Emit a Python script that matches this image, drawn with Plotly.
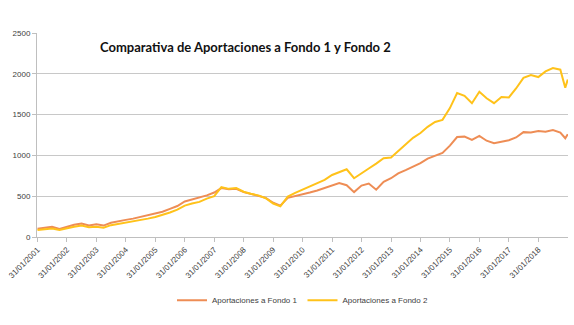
import plotly.graph_objects as go
import pandas as pd

# Quarterly readings (end of Jan/Apr/Jul/Oct) from 31/01/2001 to 31/10/2018, plus two final points
dates = list(pd.date_range("2001-01-31", periods=72, freq="3ME").strftime("%Y-%m-%d")) + ["2018-12-31", "2019-01-31"]

fondo1 = [100, 115, 125, 100, 130, 150, 165, 140, 155, 140, 175, 195,
          210, 225, 245, 265, 285, 310, 345, 380, 435, 460, 480, 510,
          545, 600, 585, 590, 550, 525, 505, 480, 420, 385, 480, 500,
          520, 545, 570, 600, 635, 660, 635, 550, 630, 655, 580, 675,
          720, 780, 820, 865, 905, 960, 995, 1030, 1120, 1225, 1230, 1190,
          1240, 1180, 1150, 1165, 1185, 1220, 1285, 1280, 1300, 1290, 1310, 1280,
          1210, 1260]

fondo2 = [85, 95, 105, 85, 110, 125, 140, 120, 125, 115, 145, 160,
          175, 190, 205, 225, 245, 270, 300, 335, 385, 410, 430, 470,
          500, 610, 590, 600, 555, 530, 510, 475, 410, 375, 495, 540,
          580, 620, 665, 700, 760, 790, 830, 720, 785, 840, 900, 965,
          975, 1050, 1130, 1215, 1275, 1350, 1410, 1435, 1580, 1765, 1730, 1640,
          1780, 1700, 1640, 1715, 1710, 1820, 1950, 1985, 1960, 2030, 2070, 2050,
          1830, 1930]

tick_vals = [f"{y}-01-31" for y in range(2001, 2019)]
tick_text = [f"31/01/{y}" for y in range(2001, 2019)]

fig = go.Figure()
fig.add_trace(go.Scatter(x=dates, y=fondo1, mode="lines", name="Aportaciones a Fondo 1",
                         line=dict(color="#EE8D55", width=2)))
fig.add_trace(go.Scatter(x=dates, y=fondo2, mode="lines", name="Aportaciones a Fondo 2",
                         line=dict(color="#FFC21A", width=2)))

fig.update_layout(
    width=574, height=325,
    margin=dict(l=37, r=6, t=33, b=88),
    paper_bgcolor="white", plot_bgcolor="white",
    font=dict(family="Liberation Sans", size=8, color="#404040"),
    showlegend=True,
    legend=dict(orientation="h", x=0.5, xanchor="center", y=-0.31, yanchor="middle",
                font=dict(size=8, color="#404040"), itemwidth=30, tracegroupgap=0),
    annotations=[dict(text="<b>Comparativa de Aportaciones a Fondo 1 y Fondo 2</b>",
                      xref="paper", yref="paper", x=(245 - 37) / 531, y=(237 - 47) / 204,
                      xanchor="center", yanchor="middle", showarrow=False,
                      font=dict(family="Lato", size=13, color="#111111"))],
)
fig.update_xaxes(type="date", range=["2001-01-25", "2019-02-03"],
                 tickvals=tick_vals, ticktext=tick_text, tickangle=-45,
                 showgrid=False, showline=True, linecolor="#BFBFBF", linewidth=1,
                 ticks="outside", ticklen=4, tickcolor="#BFBFBF",
                 tickfont=dict(size=8, color="#404040"))
fig.update_yaxes(range=[0, 2500], dtick=500, showgrid=True, gridcolor="#C8C8C8", gridwidth=1,
                 showline=True, linecolor="#BFBFBF", zeroline=False,
                 ticks="outside", ticklen=4, tickcolor="#BFBFBF",
                 tickfont=dict(size=8, color="#404040"))

fig.write_html("out.html")
